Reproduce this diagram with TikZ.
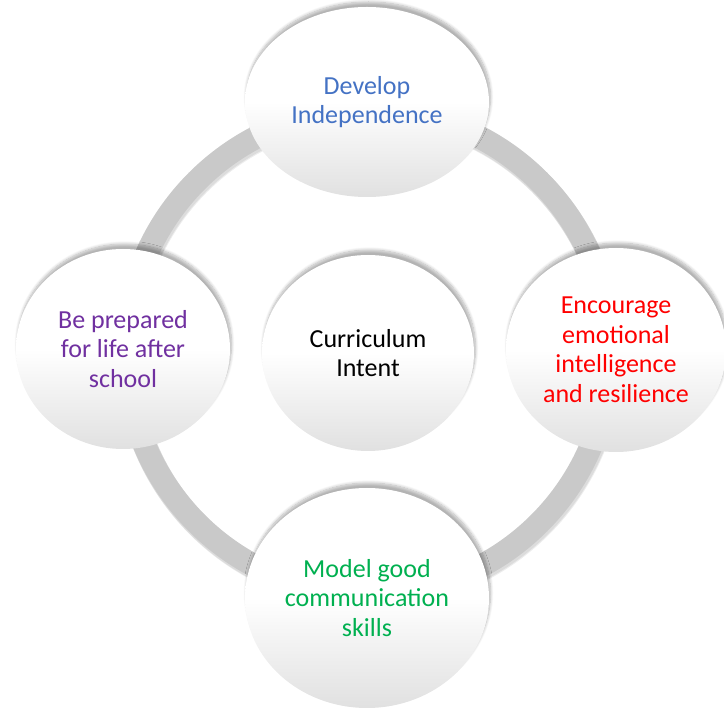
\documentclass[tikz,border=0pt]{standalone}
\usepackage{fontspec}
\setmainfont{Carlito}
\usetikzlibrary{shapes.geometric, shadows.blur}

\definecolor{ringgrey}{RGB}{201,201,201}
\definecolor{devblue}{RGB}{68,114,196}
\definecolor{emored}{RGB}{255,0,0}
\definecolor{comgreen}{RGB}{0,176,80}
\definecolor{lifepurple}{RGB}{112,48,160}

\begin{document}
\begin{tikzpicture}[
	x = 1pt, y = -1pt,
	bubble/.style = {ellipse, inner sep=0pt, align=center,
		top color=white, bottom color=black!12, middle color=white,
		blur shadow={shadow xshift=1.5pt, shadow yshift=5pt,
			shadow opacity=30, shadow blur radius=3pt, shadow blur steps=8},
		font=\fontsize{26}{29.5}\selectfont},
	ringshadow/.style = {draw=black, line width=24pt, opacity=0.07},
	ring/.style = {draw=ringgrey, line width=23pt},
	]
	\useasboundingbox (0,0) rectangle (724,708);
	% ring behind the bubbles
	\draw[ringshadow] (369.5,355) circle[radius=242];
	\draw[ringshadow] (369,354) circle[radius=242];
	\draw[ring] (368,352) circle[radius=242];
	% bubbles
	\node[bubble, minimum width=244pt, minimum height=190pt,
		text=devblue] (dev) at (367,102) {Develop\\Independence};
	\node[bubble, minimum width=214pt, minimum height=200pt,
		text=lifepurple] (life) at (123,349) {Be prepared\\for life after\\school};
	\node[bubble, minimum width=220pt, minimum height=204pt,
		text=emored] (emo) at (616,350) {Encourage\\emotional\\intelligence\\and resilience};
	\node[bubble, minimum width=244pt, minimum height=220pt,
		text=comgreen] (com) at (367,598) {Model good\\communication\\skills};
	\node[bubble, minimum width=212pt, minimum height=196pt,
		text=black] (intent) at (368,353) {Curriculum\\Intent};
\end{tikzpicture}
\end{document}
